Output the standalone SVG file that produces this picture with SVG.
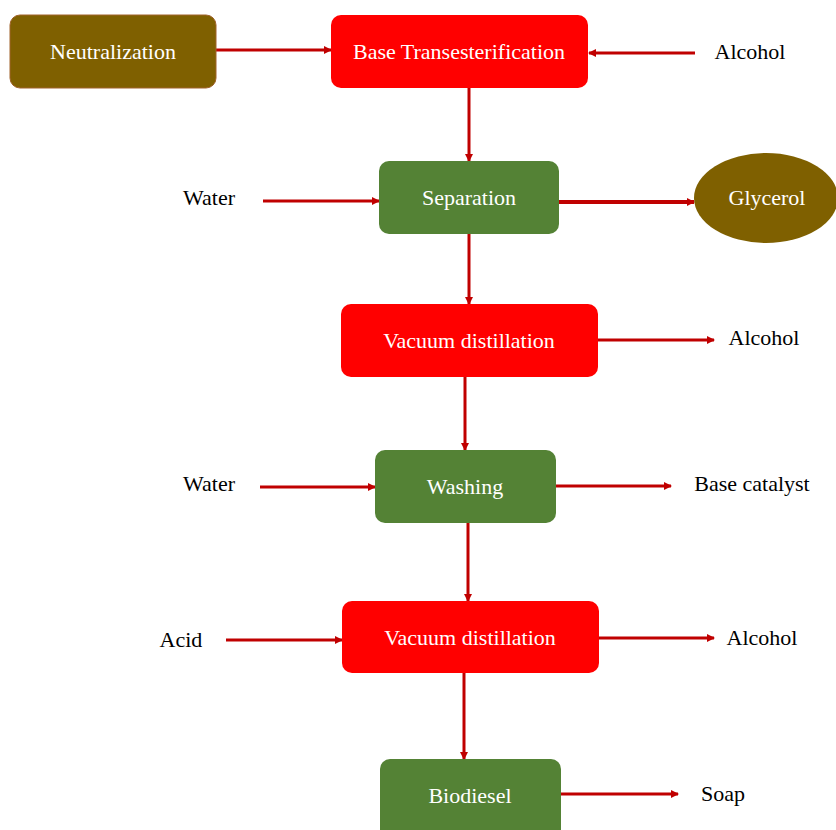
<svg xmlns="http://www.w3.org/2000/svg" width="836" height="830" viewBox="0 0 836 830">
<defs>
<marker id="ah" markerWidth="8" markerHeight="8" refX="7" refY="4" orient="auto" markerUnits="userSpaceOnUse">
<path d="M0,0 L8,4 L0,8 Z" fill="#C00000"/>
</marker>
<style>
.red{fill:#FF0000;}
.grn{fill:#548235;}
.brn{fill:#7F6000;stroke:#A0622A;stroke-width:1;}
.nt{font-family:"Liberation Serif","Times New Roman",serif;font-size:22px;fill:#FFFFFF;text-anchor:middle;dominant-baseline:central;}
.lb{font-family:"Liberation Serif","Times New Roman",serif;font-size:22px;fill:#000000;text-anchor:middle;dominant-baseline:central;}
.c{stroke:#C00000;stroke-width:3;fill:none;marker-end:url(#ah);}
.ct{stroke:#C00000;stroke-width:4;fill:none;marker-end:url(#ah);}
</style>
</defs>
<rect width="836" height="830" fill="#FFFFFF"/>
<g id="connectors">
<line class="c" x1="216" y1="50" x2="331" y2="50"/>
<line class="c" x1="695" y1="53" x2="589" y2="53"/>
<line class="c" x1="469" y1="88" x2="469" y2="161"/>
<line class="c" x1="263" y1="201" x2="379" y2="201"/>
<line class="ct" x1="559" y1="202" x2="694" y2="202"/>
<line class="c" x1="469" y1="234" x2="469" y2="304"/>
<line class="c" x1="598" y1="340" x2="714" y2="340"/>
<line class="c" x1="465" y1="377" x2="465" y2="450"/>
<line class="c" x1="260" y1="487" x2="375" y2="487"/>
<line class="c" x1="556" y1="486" x2="671" y2="486"/>
<line class="c" x1="468" y1="523" x2="468" y2="601"/>
<line class="c" x1="226" y1="640" x2="342" y2="640"/>
<line class="c" x1="599" y1="638" x2="714" y2="638"/>
<line class="c" x1="464" y1="673" x2="464" y2="759"/>
<line class="c" x1="561" y1="794" x2="678" y2="794"/>
</g>
<g id="neutralization"><rect class="brn" x="10" y="15" width="206" height="73" rx="10"/><text class="nt" x="113" y="51">Neutralization</text></g>
<g id="base-transesterification"><rect class="red" x="331" y="15" width="257" height="73" rx="10"/><text class="nt" x="459" y="51">Base Transesterification</text></g>
<g id="alcohol-1"><text class="lb" x="750" y="51">Alcohol</text></g>
<g id="water-1"><text class="lb" x="209" y="197">Water</text></g>
<g id="separation"><rect class="grn" x="379" y="161" width="180" height="73" rx="10"/><text class="nt" x="469" y="197">Separation</text></g>
<g id="glycerol"><ellipse cx="766" cy="198" rx="72" ry="45" fill="#7F6000"/><text class="nt" x="767" y="197">Glycerol</text></g>
<g id="vacuum-distillation-1"><rect class="red" x="341" y="304" width="257" height="73" rx="10"/><text class="nt" x="469" y="340">Vacuum distillation</text></g>
<g id="alcohol-2"><text class="lb" x="764" y="337">Alcohol</text></g>
<g id="water-2"><text class="lb" x="209" y="483">Water</text></g>
<g id="washing"><rect class="grn" x="375" y="450" width="181" height="73" rx="10"/><text class="nt" x="465" y="486">Washing</text></g>
<g id="base-catalyst"><text class="lb" x="752" y="483">Base catalyst</text></g>
<g id="acid"><text class="lb" x="181" y="639">Acid</text></g>
<g id="vacuum-distillation-2"><rect class="red" x="342" y="601" width="257" height="72" rx="10"/><text class="nt" x="470" y="637">Vacuum distillation</text></g>
<g id="alcohol-3"><text class="lb" x="762" y="637">Alcohol</text></g>
<g id="biodiesel"><rect class="grn" x="380" y="759" width="181" height="80" rx="10"/><text class="nt" x="470" y="795">Biodiesel</text></g>
<g id="soap"><text class="lb" x="723" y="793">Soap</text></g>
</svg>
